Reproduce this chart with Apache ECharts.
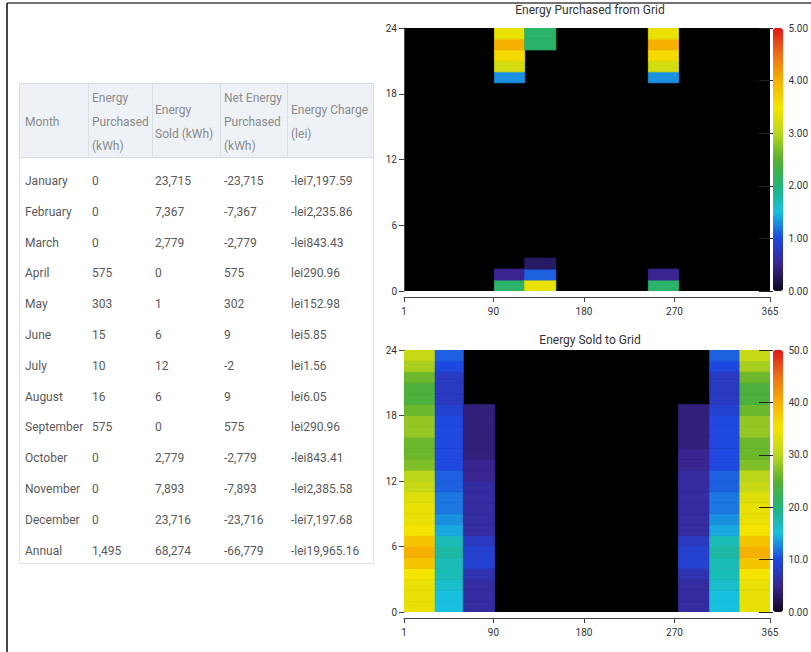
<!DOCTYPE html>
<html>
<head>
<meta charset="utf-8">
<title>Energy Purchased / Sold</title>
<script src="https://cdn.jsdelivr.net/npm/echarts@6/dist/echarts.min.js"></script>
<style>
  html, body { margin: 0; padding: 0; background: #fff; }
  #main { width: 811px; height: 652px; }
</style>
</head>
<body>
<div id="main"></div>
<script>
// monthly summary table
const headerLabels = ['Month', 'Energy\nPurchased\n(kWh)', 'Energy\nSold (kWh)', 'Net Energy\nPurchased\n(kWh)', 'Energy Charge\n(lei)'];
const tableMonths = ['January', 'February', 'March', 'April', 'May', 'June', 'July', 'August', 'September', 'October', 'November', 'December', 'Annual'];
const energyPurchased = [0, 0, 0, 575, 303, 15, 10, 16, 575, 0, 0, 0, 1495];
const energySold = [23715, 7367, 2779, 0, 1, 6, 12, 6, 0, 2779, 7893, 23716, 68274];
const netPurchased = [-23715, -7367, -2779, 575, 302, 9, -2, 9, 575, -2779, -7893, -23716, -66779];
const energyCharge = [-7197.59, -2235.86, -843.43, 290.96, 152.98, 5.85, 1.56, 6.05, 290.96, -843.41, -2385.58, -7197.68, -19965.16];

// heatmaps: x = day of year, y = hour of day
const dayTicks = [1, 90, 180, 270, 365];
const hourTicks = [0, 6, 12, 18, 24];
const monthStartDay = [1, 32, 60, 91, 121, 152, 182, 213, 244, 274, 305, 335, 366];

// hourly values, index 0 = hour 0-1 ; months not listed are zero
const purchasedApr = [2.1, 0.5, 0, 0, 0, 0, 0, 0, 0, 0, 0, 0, 0, 0, 0, 0, 0, 0, 0, 1.3, 3.2, 3.6, 4.0, 3.4];
const purchasedMay = [3.4, 1.1, 0.3, 0, 0, 0, 0, 0, 0, 0, 0, 0, 0, 0, 0, 0, 0, 0, 0, 0, 0, 0, 2.1, 2.1];
const purchasedSep = [2.1, 0.5, 0, 0, 0, 0, 0, 0, 0, 0, 0, 0, 0, 0, 0, 0, 0, 0, 0, 1.3, 3.2, 3.6, 4.0, 3.4];

const soldJan = [34, 34, 34, 35, 38, 40, 38, 35, 34, 34, 33, 31, 30, 27, 26, 26, 28, 28, 26, 24, 24, 26, 29, 31];
const soldFeb = [15, 15, 16, 17, 17, 18, 17, 14, 13, 12, 12, 11, 11, 10, 10, 10, 10, 10, 9, 8, 8, 8, 10, 11];
const soldMar = [6, 6, 6, 7, 9, 9, 8, 6, 6, 6, 6, 6, 5, 5, 4, 4, 4, 4, 4, 0, 0, 0, 0, 0];
const soldOct = [6, 6, 6, 7, 9, 9, 8, 6, 6, 6, 6, 6, 6, 5, 5, 4, 4, 4, 4, 0, 0, 0, 0, 0];
const soldNov = [15, 15, 16, 17, 17, 18, 17, 14, 13, 12, 12, 11, 11, 10, 10, 10, 10, 10, 9, 8, 8, 8, 10, 11];
const soldDec = [34, 34, 34, 35, 38, 40, 38, 35, 34, 34, 33, 31, 30, 27, 26, 26, 28, 28, 26, 24, 24, 26, 29, 31];

const purchasedScale = [0, 5];
const soldScale = [0, 50];
const colorScale = ['#0c0820', '#3a2590', '#1e48e0', '#18c0e0', '#20b478', '#58b030', '#bcd61c', '#f4e400', '#f6b000', '#ec7018', '#e01818'];

function monthCells(m, values) {
  return values.map((v, h) => [monthStartDay[m], monthStartDay[m + 1], h, v]);
}

const purchasedData = [].concat(
  monthCells(3, purchasedApr), monthCells(4, purchasedMay), monthCells(8, purchasedSep));
const soldData = [].concat(
  monthCells(0, soldJan), monthCells(1, soldFeb), monthCells(2, soldMar),
  monthCells(9, soldOct), monthCells(10, soldNov), monthCells(11, soldDec));

function renderCell(params, api) {
  const v = api.value(3);
  if (!(v > 0)) return;
  const p0 = api.coord([api.value(0), api.value(2) + 1]);
  const p1 = api.coord([api.value(1), api.value(2)]);
  const c = api.visual('color');
  // stroke in the same colour hides the seams between neighbouring cells
  return {
    type: 'rect',
    shape: { x: p0[0], y: p0[1], width: p1[0] - p0[0], height: p1[1] - p0[1] },
    style: { fill: c, stroke: c, lineWidth: 0.8 },
  };
}

function fmtInt(n) {
  return (n < 0 ? '-' : '') + String(Math.abs(n)).replace(/\B(?=(\d{3})+(?!\d))/g, ',');
}
function fmtLei(n) {
  const parts = Math.abs(n).toFixed(2).split('.');
  return (n < 0 ? '-' : '') + 'lei' + parts[0].replace(/\B(?=(\d{3})+(?!\d))/g, ',') + '.' + parts[1];
}

// table drawn as graphic elements
const colX = [25, 92, 155, 224, 291];
const font = 'Roboto, "Liberation Sans", sans-serif';
const graphics = [
  { type: 'line', shape: { x1: 7, y1: 3, x2: 7, y2: 652 }, style: { stroke: '#444', lineWidth: 2 } },
  { type: 'line', shape: { x1: 7, y1: 3, x2: 811, y2: 3 }, style: { stroke: '#444', lineWidth: 1.5 } },
  { type: 'rect', shape: { x: 19.5, y: 83.5, width: 354, height: 480 }, style: { fill: '#fff', stroke: '#dde2e8', lineWidth: 1 } },
  { type: 'rect', shape: { x: 19.5, y: 83.5, width: 354, height: 74 }, style: { fill: '#eef2f7', stroke: '#d6dce4', lineWidth: 1 } },
];
[88, 152, 220, 287].forEach((x) => {
  graphics.push({ type: 'line', shape: { x1: x + 0.5, y1: 84, x2: x + 0.5, y2: 157 }, style: { stroke: '#dbe0e7', lineWidth: 1 } });
});
headerLabels.forEach((t, i) => {
  graphics.push({
    type: 'text', x: colX[i], y: 122,
    style: { text: t, fill: '#8a8a8a', font: '12px ' + font, lineHeight: 24, verticalAlign: 'middle', align: 'left' },
  });
});
tableMonths.forEach((m, r) => {
  const y = 181 + r * 30.8;
  const cells = [m, fmtInt(energyPurchased[r]), fmtInt(energySold[r]), fmtInt(netPurchased[r]), fmtLei(energyCharge[r])];
  cells.forEach((t, i) => {
    graphics.push({
      type: 'text', x: colX[i], y: y,
      style: { text: t, fill: '#5a5a5a', font: '12px ' + font, verticalAlign: 'middle', align: 'left' },
    });
  });
});

const axisText = { color: '#333', fontSize: 10, fontFamily: font };

function heatGrid(top, height) {
  return { left: 404, top: top, width: 366, height: height, show: true, backgroundColor: '#000', borderWidth: 0 };
}
function dayAxis(gridIndex) {
  return {
    type: 'value', gridIndex: gridIndex, min: 1, max: 365, offset: 6,
    axisLine: { show: true, onZero: false, lineStyle: { color: '#444' } },
    axisTick: { show: true, length: 5, customValues: dayTicks, lineStyle: { color: '#444' } },
    axisLabel: Object.assign({ customValues: dayTicks, margin: 9 }, axisText),
    splitLine: { show: false },
  };
}
function hourAxis(gridIndex) {
  return {
    type: 'value', gridIndex: gridIndex, min: hourTicks[0], max: hourTicks[hourTicks.length - 1], interval: 6,
    axisLine: { show: true, lineStyle: { color: '#444' } },
    axisTick: { show: true, length: 5, lineStyle: { color: '#444' } },
    axisLabel: Object.assign({ margin: 7 }, axisText),
    splitLine: { show: false },
  };
}
function barAxis(gridIndex, scale, fmt) {
  return {
    type: 'value', gridIndex: gridIndex, position: 'right', min: scale[0], max: scale[1],
    interval: (scale[1] - scale[0]) / 5, z: 10,
    axisLine: { show: false },
    axisTick: { show: true, inside: true, length: 14, lineStyle: { color: '#222' } },
    axisLabel: Object.assign({ margin: 3, formatter: fmt }, axisText),
    splitLine: { show: false },
  };
}

const chart = echarts.init(document.getElementById('main'), null, { renderer: 'svg' });
chart.setOption({
  backgroundColor: '#fff',
  animation: false,
  title: [
    { text: 'Energy Purchased from Grid', left: 590, top: 4, textAlign: 'center', padding: 0,
      textStyle: { fontSize: 12, fontWeight: 'normal', color: '#333', fontFamily: font } },
    { text: 'Energy Sold to Grid', left: 590, top: 334, textAlign: 'center', padding: 0,
      textStyle: { fontSize: 12, fontWeight: 'normal', color: '#333', fontFamily: font } },
  ],
  grid: [
    heatGrid(28, 263),
    heatGrid(350, 262),
    { left: 773, top: 28, width: 14, height: 263 },
    { left: 773, top: 350, width: 14, height: 262 },
  ],
  xAxis: [
    dayAxis(0),
    dayAxis(1),
    { type: 'value', gridIndex: 2, show: false },
    { type: 'value', gridIndex: 3, show: false },
  ],
  yAxis: [
    hourAxis(0),
    hourAxis(1),
    barAxis(2, purchasedScale, (v) => v.toFixed(2)),
    barAxis(3, soldScale, (v) => (v === 0 ? '0.00' : v.toFixed(1))),
  ],
  visualMap: [
    { type: 'continuous', seriesIndex: 0, dimension: 3, min: purchasedScale[0], max: purchasedScale[1],
      left: 773, top: 28, itemWidth: 10, itemHeight: 263, padding: 0, calculable: false,
      inRange: { color: colorScale } },
    { type: 'continuous', seriesIndex: 1, dimension: 3, min: soldScale[0], max: soldScale[1],
      left: 773, top: 350, itemWidth: 10, itemHeight: 262, padding: 0, calculable: false,
      inRange: { color: colorScale } },
  ],
  series: [
    { type: 'custom', name: 'Energy Purchased from Grid', xAxisIndex: 0, yAxisIndex: 0,
      renderItem: renderCell, clip: true, encode: { x: [0, 1], y: 2 }, data: purchasedData },
    { type: 'custom', name: 'Energy Sold to Grid', xAxisIndex: 1, yAxisIndex: 1,
      renderItem: renderCell, clip: true, encode: { x: [0, 1], y: 2 }, data: soldData },
  ],
  graphic: graphics,
});
</script>
</body>
</html>
